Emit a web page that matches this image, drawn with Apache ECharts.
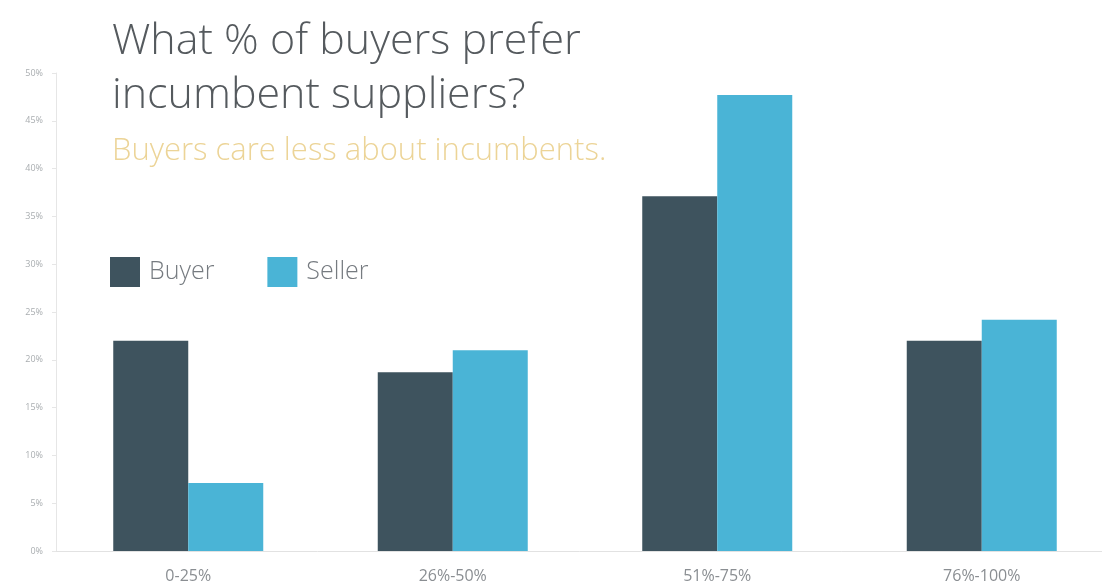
<!DOCTYPE html>
<html>
<head>
<meta charset="utf-8">
<script src="https://cdn.jsdelivr.net/npm/echarts@6/dist/echarts.min.js"></script>
<style>
  html, body { margin: 0; padding: 0; background: #ffffff; }
  #chart { width: 1102px; height: 588px; }
</style>
</head>
<body>
<div id="chart"></div>
<script>
// Share of respondents by incumbent-preference band
const categories = ['0-25%', '26%-50%', '51%-75%', '76%-100%'];
const buyerValues = [22, 18.7, 37.1, 22];
const sellerValues = [7.1, 21, 47.7, 24.2];
const seriesNames = ['Buyer', 'Seller'];
const yTicks = [0, 5, 10, 15, 20, 25, 30, 35, 40, 45, 50];

const chart = echarts.init(document.getElementById('chart'), null, { renderer: 'canvas' });

const font = '"Open Sans", "Noto Sans", sans-serif';

chart.setOption({
  backgroundColor: '#ffffff',
  animation: false,
  title: [
    {
      text: 'What % of buyers prefer\nincumbent suppliers?',
      left: 107,
      top: 10,
      textStyle: {
        fontFamily: font,
        fontWeight: 300,
        fontSize: 43,
        lineHeight: 54,
        color: '#555a5e'
      }
    },
    {
      text: 'Buyers care less about incumbents.',
      left: 107,
      top: 131,
      textStyle: {
        fontFamily: font,
        fontWeight: 300,
        fontSize: 31,
        color: '#ecd497'
      }
    }
  ],
  legend: {
    data: seriesNames,
    left: 110,
    top: 257,
    padding: 0,
    itemWidth: 30,
    itemHeight: 30,
    itemGap: 53,
    icon: 'rect',
    textStyle: {
      fontFamily: font,
      fontWeight: 300,
      fontSize: 25,
      color: '#767b80',
      padding: [0, 0, 0, 4]
    }
  },
  grid: {
    left: 56,
    right: -12,
    top: 73,
    bottom: 37,
    outerBoundsMode: 'none',
    containLabel: false
  },
  xAxis: {
    type: 'category',
    data: categories,
    axisLine: { lineStyle: { color: '#e2e2e2', width: 1 } },
    axisTick: { show: false },
    axisLabel: {
      fontFamily: font,
      fontSize: 16,
      color: '#8a8e92',
      margin: 17
    }
  },
  yAxis: {
    type: 'value',
    min: yTicks[0],
    max: yTicks[yTicks.length - 1],
    interval: 5,
    axisLine: { show: true, lineStyle: { color: '#e6e6e6', width: 1 } },
    axisTick: { show: true, length: 4, lineStyle: { color: '#e6e6e6' } },
    splitLine: { show: false },
    axisLabel: {
      fontFamily: font,
      fontSize: 9,
      color: '#a9adb0',
      margin: 13,
      formatter: v => v + '%'
    }
  },
  series: [
    {
      name: seriesNames[0],
      type: 'bar',
      data: buyerValues,
      barWidth: 75,
      barGap: '0%',
      itemStyle: { color: '#3e535e' }
    },
    {
      name: seriesNames[1],
      type: 'bar',
      data: sellerValues,
      barWidth: 75,
      barGap: '0%',
      itemStyle: { color: '#4ab4d6' }
    }
  ]
});
</script>
</body>
</html>
